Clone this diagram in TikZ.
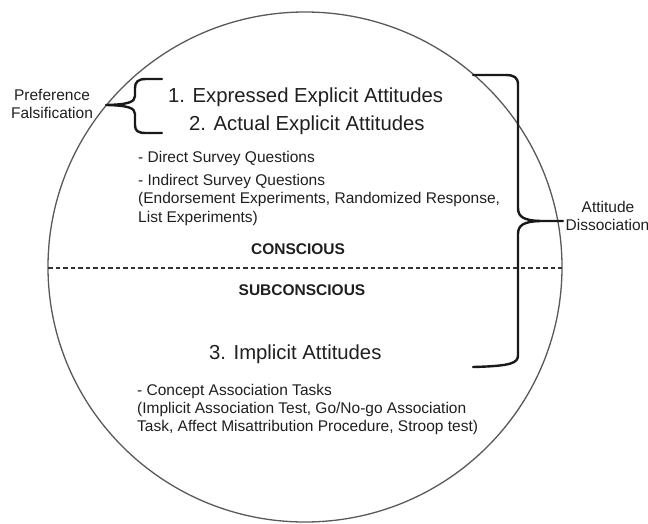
\documentclass[tikz,border=0pt]{standalone}
\usepackage{fontspec}
\setmainfont{Liberation Sans}
\begin{document}
\begin{tikzpicture}[x=1pt,y=-1pt,
  big/.style={font=\fontsize{20.3}{24}\selectfont, text=black!88, inner sep=0pt},
  small/.style={font=\fontsize{15.5}{18.5}\selectfont, text=black!88, inner sep=0pt, align=left},
  boldlbl/.style={font=\fontsize{15.5}{18.5}\selectfont\bfseries, text=black!88, inner sep=0pt},
  side/.style={font=\fontsize{15.5}{18}\selectfont, text=black!88, inner sep=0pt, align=center},
  bracestroke/.style={line width=2.4pt, black!90, line join=round, line cap=round},
  ring/.style={line width=1.3pt, black!65},
  divider/.style={line width=1.4pt, black!80, dash pattern=on 4.5pt off 3pt}]
\useasboundingbox (0,0) rectangle (648,524);
% circle
\draw[ring] (305,267) ellipse [x radius=257, y radius=255];
% dashed divider
\coordinate (dl) at (48,268);
\coordinate (dr) at (562,268);
\draw[divider] (dl) -- (dr);
% texts
\node[big, anchor=base west] (e1) at (168,102.3) {1. Expressed Explicit Attitudes};
\node[big, anchor=base west] (e2) at (189,130.3) {2. Actual Explicit Attitudes};
\node[small, anchor=base west] (d1) at (138,162.5) {- Direct Survey Questions};
\node[small, anchor=base west] (d2) at (138,185.5) {- Indirect Survey Questions};
\node[small, anchor=base west] (d3) at (138,203.8) {(Endorsement Experiments, Randomized Response,};
\node[small, anchor=base west] (d4) at (138,222.3) {List Experiments)};
\node[boldlbl, anchor=base] (con) at (298,254.5) {CONSCIOUS};
\node[boldlbl, anchor=base] (sub) at (302,295.5) {SUBCONSCIOUS};
\node[big, anchor=base west] (e3) at (209,359.3) {3. Implicit Attitudes};
\node[small, anchor=base west] (c1) at (137,395.5) {- Concept Association Tasks};
\node[small, anchor=base west] (c2) at (137,413.5) {(Implicit Association Test, Go/No-go Association};
\node[small, anchor=base west] (c3) at (137,431.3) {Task, Affect Misattribution Procedure, Stroop test)};
\node[side, anchor=base] (pf1) at (52,100.5) {Preference};
\node[side, anchor=base] (pf2) at (52,118.5) {Falsification};
\node[side, anchor=base] (ad1) at (608,212.5) {Attitude};
\node[side, anchor=base] (ad2) at (607.5,230.5) {Dissociation};
% left brace
\coordinate (lt) at (106,105);
\draw[bracestroke] (162,79) -- (146,79) .. controls (138,79) and (135,82) .. (135,88)
  -- (135,96) .. controls (135,102) and (128,104.6) .. (lt)
  .. controls (128,105.4) and (135,108) .. (135,114)
  -- (135,125) .. controls (135,131) and (138,133) .. (146,133) -- (162,133);
% right brace
\coordinate (rt) at (563,221);
\draw[bracestroke] (473,75) -- (505,75) .. controls (514,75) and (518,77) .. (518,85)
  -- (518,208) .. controls (518,217) and (524,220.4) .. (540,221) -- (rt);
\draw[bracestroke] (540,221) .. controls (524,221.6) and (518,225) .. (518,234)
  -- (518,355) .. controls (518,363) and (512,366) .. (473,367);
\end{tikzpicture}
\end{document}
